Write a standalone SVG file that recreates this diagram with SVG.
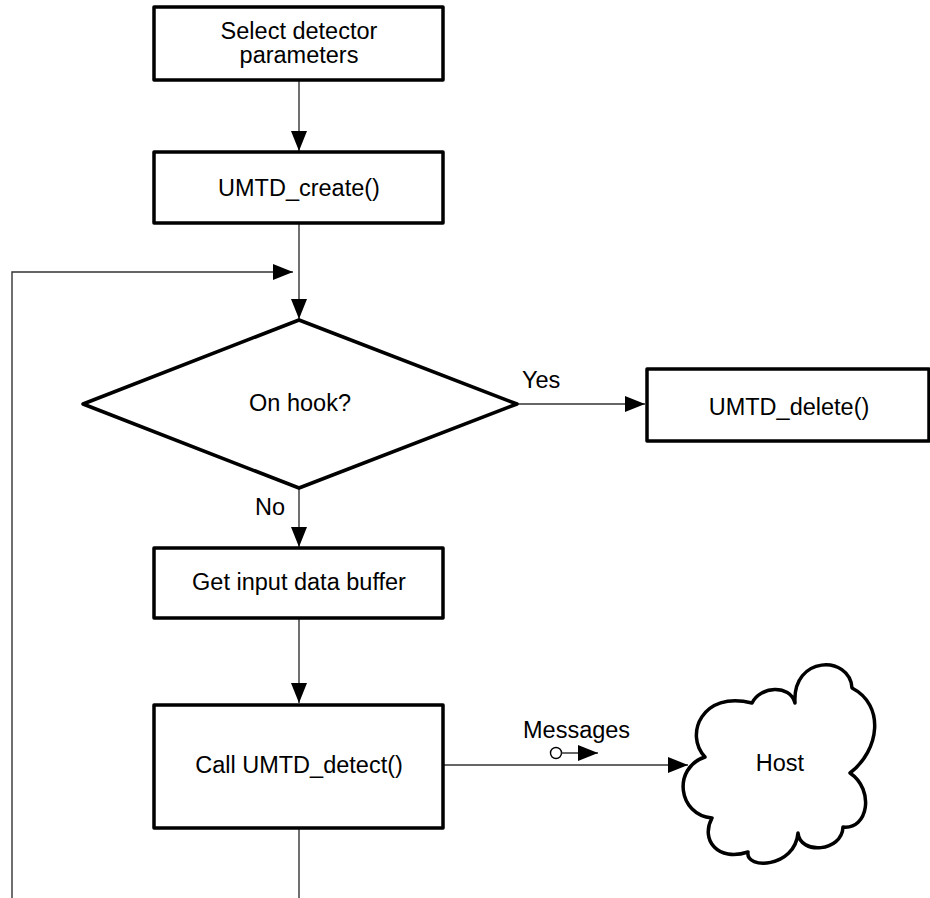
<svg xmlns="http://www.w3.org/2000/svg" width="930" height="898" viewBox="0 0 930 898">
<defs>
<style>
.box{fill:#fff;stroke:#000;stroke-width:3.5;stroke-linejoin:round}
.ln{fill:none;stroke:#333;stroke-width:1.4}
.t{font-family:"Liberation Sans",Arial,sans-serif;font-size:23.5px;fill:#000}
.c{text-anchor:middle}
</style>
<marker id="ah" viewBox="0 0 20 16" refX="20" refY="8" markerWidth="20" markerHeight="16" markerUnits="userSpaceOnUse" orient="auto">
<path d="M0,0 L20,8 L0,16 Z" fill="#000"/>
</marker>
</defs>
<rect width="930" height="898" fill="#fff"/>
<g id="connectors">
<line class="ln" x1="299" y1="80" x2="299" y2="151" marker-end="url(#ah)"/>
<line class="ln" x1="299" y1="223" x2="299" y2="319" marker-end="url(#ah)"/>
<polyline class="ln" points="12,898 12,272 293,272" marker-end="url(#ah)"/>
<line class="ln" x1="517" y1="404" x2="645" y2="404" marker-end="url(#ah)"/>
<line class="ln" x1="299" y1="488" x2="299" y2="547" marker-end="url(#ah)"/>
<line class="ln" x1="299" y1="618" x2="299" y2="703" marker-end="url(#ah)"/>
<line class="ln" x1="443" y1="765" x2="688" y2="765" marker-end="url(#ah)"/>
<line class="ln" x1="299" y1="828" x2="299" y2="898"/>
<text class="t" x="522" y="388">Yes</text>
<text class="t" x="255" y="515">No</text>
<text class="t" x="523" y="738">Messages</text>
<circle cx="556" cy="753" r="5.5" fill="#fff" stroke="#000" stroke-width="1.4"/>
<line class="ln" x1="561.5" y1="753" x2="598" y2="753" marker-end="url(#ah)"/>
</g>
<g id="n1">
<rect class="box" x="154" y="7" width="289" height="73"/>
<text class="t c" x="299" y="39">Select detector</text>
<text class="t c" x="299" y="63">parameters</text>
</g>
<g id="n2">
<rect class="box" x="154" y="152" width="289" height="71"/>
<text class="t c" x="299" y="196">UMTD_create()</text>
</g>
<g id="n3">
<polygon class="box" points="299,320 517,404 299,488 83,404"/>
<text class="t c" x="300" y="411">On hook?</text>
</g>
<g id="n4">
<rect class="box" x="647" y="369" width="282" height="72"/>
<text class="t c" x="789" y="415">UMTD_delete()</text>
</g>
<g id="n5">
<rect class="box" x="154" y="548" width="289" height="70"/>
<text class="t c" x="299" y="590">Get input data buffer</text>
</g>
<g id="n6">
<rect class="box" x="154" y="705" width="289" height="123"/>
<text class="t c" x="299" y="773">Call UMTD_detect()</text>
</g>
<g id="n7">
<path class="box" d="M705,757 C684,735 702,690 752,703 C760,686 790,684 795,703 C792,655 850,655 852,688 C885,705 880,750 850,773 C875,790 868,830 843,827 C842,852 800,855 798,833 C795,868 745,870 748,852 C718,862 700,840 712,818 C678,815 672,768 705,757 Z"/>
<text class="t c" x="780" y="771">Host</text>
</g>
</svg>
